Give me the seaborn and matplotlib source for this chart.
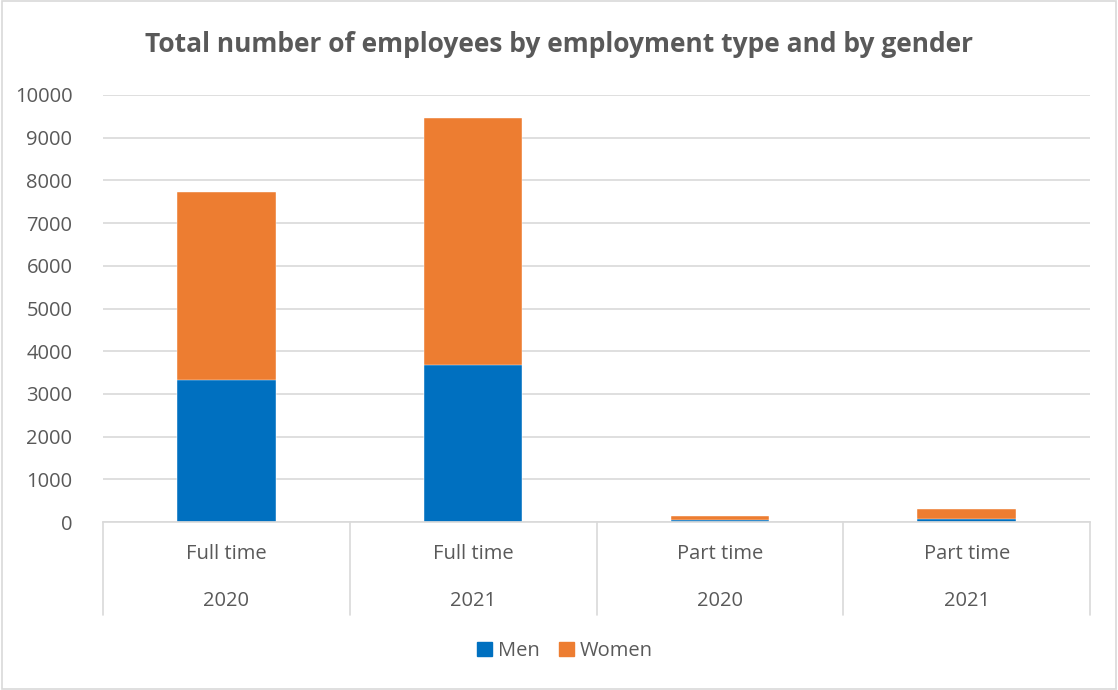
import numpy as np
import pandas as pd
import matplotlib
matplotlib.use('Agg')
import matplotlib.pyplot as plt
from matplotlib.patches import Patch, Rectangle
import seaborn as sns

sns.set_style("white")
plt.rcParams['font.family'] = ['Open Sans', 'DejaVu Sans']

# == data
types = ['Full time', 'Full time', 'Part time', 'Part time']
years = ['2020', '2021', '2020', '2021']
men = [3330, 3680, 40, 65]
women = [4400, 5770, 100, 230]

df = pd.DataFrame({'cat': [t + '\n' + y for t, y in zip(types, years)],
                   'men': men, 'women': women})
df['total'] = df['men'] + df['women']

grey = '#595959'
blue = '#0070c0'
orange = '#ed7d31'
fs = 14.5

fig = plt.figure(figsize=(11.18, 6.9), dpi=100)
ax = fig.add_axes([103/1118, 1-522/690, (1090-103)/1118, (522-95)/690])

sns.barplot(data=df, x='cat', y='total', color=orange, width=0.4,
            saturation=1, ax=ax, edgecolor='white', linewidth=0.3)
sns.barplot(data=df, x='cat', y='men', color=blue, width=0.4,
            saturation=1, ax=ax, edgecolor='white', linewidth=0.3)

ax.set_ylim(0, 10000)
ax.set_xlim(-0.5, 3.5)
ax.set_yticks(np.arange(0, 10001, 1000))
ax.set_yticklabels([str(v) for v in range(0, 10001, 1000)], fontsize=fs, color=grey)
ax.tick_params(axis='y', length=0, pad=22)
ax.yaxis.grid(True, color='#d9d9d9', linewidth=1.2)
ax.set_axisbelow(True)
for s in ['top', 'right', 'left']:
    ax.spines[s].set_visible(False)
ax.spines['bottom'].set_color('#d9d9d9')
ax.spines['bottom'].set_linewidth(1.2)
ax.set_xticks([])
ax.set_xlabel('')
ax.set_ylabel('')

# == two-level category axis
for i in range(4):
    ax.text(i, -760, types[i], ha='center', va='center', fontsize=fs,
            color=grey, clip_on=False)
    ax.text(i, -1860, years[i], ha='center', va='center', fontsize=fs,
            color=grey, clip_on=False)
for xb in np.arange(-0.5, 4, 1):
    ax.plot([xb, xb], [0, -2180], color='#d9d9d9', lw=1.2, clip_on=False)

fig.text(0.5, 1-45/690, 'Total number of employees by employment type and by gender',
         ha='center', va='center', fontsize=19, fontweight='bold', color=grey)

handles = [Patch(color=blue, label='Men'), Patch(color=orange, label='Women')]
fig.legend(handles=handles, loc='center', bbox_to_anchor=(565/1118, 1-651/690),
           ncol=2, frameon=False, fontsize=fs, handlelength=0.7, handleheight=0.7,
           handletextpad=0.3, columnspacing=1.0, labelcolor=grey)

fig.patches.append(Rectangle((0.002, 0.002), 0.996, 0.996, transform=fig.transFigure,
                             fill=False, edgecolor='#d9d9d9', lw=1.2))

fig.savefig('out.png', dpi=100)
